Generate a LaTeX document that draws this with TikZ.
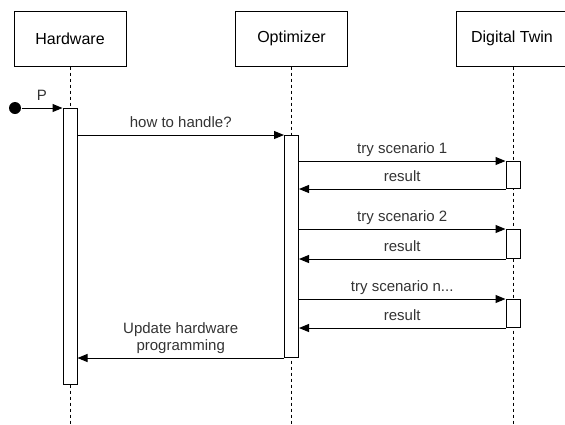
\documentclass[tikz,border=0pt]{standalone}
\usepackage{fontspec}
\setmainfont{Liberation Sans}
\usetikzlibrary{arrows.meta,positioning}

\begin{document}
\begin{tikzpicture}[x=1pt,y=-1pt,line width=1pt,
    actor/.style={draw, minimum width=112pt, minimum height=55pt, font=\fontsize{16}{18}\selectfont},
    bar/.style={draw, fill=white, minimum width=14pt, inner sep=0pt, anchor=north},
    life/.style={dash pattern=on 3pt off 3pt},
    msg/.style={-{Triangle[length=10pt,width=8pt]}},
    lbl/.style={above, inner sep=4pt, text depth=0.3em, text=black!80, font=\fontsize{15}{17}\selectfont}]
    \useasboundingbox (0,0) rectangle (565,424);

    % Lifelines
    \node[actor] (hw) at (70,38.5) {Hardware};
    \node[actor] (opt) at (291.5,38.5) {Optimizer};
    \node[actor] (dt) at (512,38.5) {Digital Twin};
    \coordinate (hwend) at (70,424);
    \coordinate (optend) at (291.5,424);
    \coordinate (dtend) at (513,424);
    \draw[life] (hw.south) -- (hwend);
    \draw[life] (opt.south) -- (optend);
    \draw[life] (dtend |- dt.south) -- (dtend);

    % Activations
    \node[bar, minimum height=276pt] (hwbar) at (70,108) {};
    \node[bar, minimum height=222pt] (optbar) at (291.5,135) {};
    \node[bar, minimum height=27pt] (dt1) at (513,161) {};
    \node[bar, minimum height=29pt] (dt2) at (513,229) {};
    \node[bar, minimum height=28pt] (dt3) at (513,299) {};

    % Messages
    \node[circle, fill, inner sep=0pt, minimum size=12pt] (start) at (15,108) {};
    \draw[msg] (start) -- (hwbar.north west) node[lbl, midway] {P};
    \draw[msg] (hwbar.east |- optbar.north) -- (optbar.north west) node[lbl, midway] {how to handle?};
    \draw[msg] (optbar.east |- dt1.north) -- (dt1.north west) node[lbl, midway] {try scenario 1};
    \draw[msg] (dt1.south west) -- (optbar.east |- dt1.south) node[lbl, midway] {result};
    \draw[msg] (optbar.east |- dt2.north) -- (dt2.north west) node[lbl, midway] {try scenario 2};
    \draw[msg] (dt2.south west) -- (optbar.east |- dt2.south) node[lbl, midway] {result};
    \draw[msg] (optbar.east |- dt3.north) -- (dt3.north west) node[lbl, midway] {try scenario n...};
    \draw[msg] (dt3.south west) -- (optbar.east |- dt3.south) node[lbl, midway] {result};
    \draw[msg] (optbar.south west) -- (hwbar.east |- optbar.south) node[lbl, midway, align=center] {Update hardware\\programming};
\end{tikzpicture}
\end{document}
